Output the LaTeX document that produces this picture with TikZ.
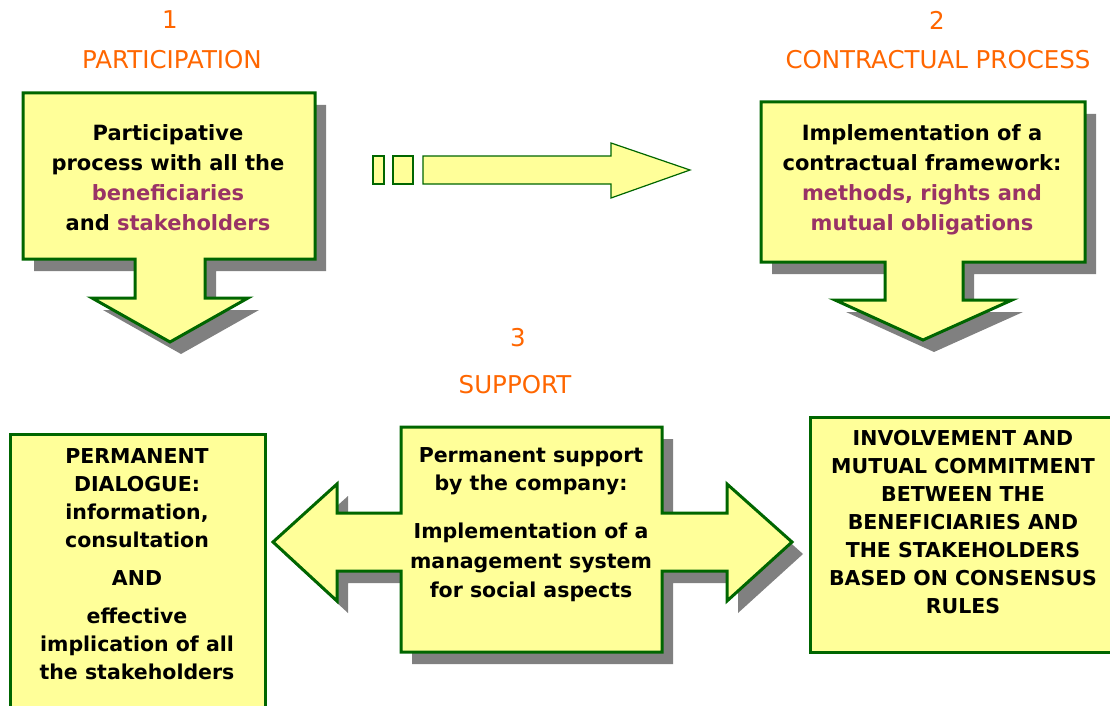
\documentclass[tikz,border=0pt]{standalone}
\usepackage{fontspec}
\setmainfont{DejaVu Sans}
\definecolor{fillY}{HTML}{FFFF99}
\definecolor{bord}{HTML}{006600}
\definecolor{orng}{HTML}{FF6600}
\definecolor{purp}{HTML}{993366}
\definecolor{shad}{HTML}{808080}
\begin{document}
\begin{tikzpicture}[x=1pt,y=-1pt,
  bigshape/.style={fill=fillY,draw=bord,line width=3pt,line join=miter},
  thinshape/.style={fill=fillY,draw=bord,line width=1.2pt,line join=miter},
  shadowshape/.style={fill=shad,shift={(11,12)}},
  title/.style={text=orng,inner sep=0pt,font=\fontsize{24.5}{28}\selectfont},
  boxtext/.style={inner sep=0pt,align=center,font=\bfseries\fontsize{21}{30}\selectfont},
  lowtext/.style={inner sep=0pt,align=center,font=\bfseries\fontsize{20.5}{28}\selectfont}]
\path[use as bounding box,clip] (0,0) rectangle (1110,706);
\def\calloutA{(23,93) -- (315,93) -- (315,259) -- (205,259) -- (205,298) -- (248,298) -- (170,342) -- (92,298) -- (135,298) -- (135,259) -- (23,259) -- cycle}
\def\calloutB{(761,102) -- (1085,102) -- (1085,262) -- (963,262) -- (963,300) -- (1012,300) -- (923,340) -- (835,300) -- (885,300) -- (885,262) -- (761,262) -- cycle}
\def\centreshape{(401,427) -- (662,427) -- (662,513) -- (727,513) -- (727,484) -- (792,542) -- (727,601) -- (727,571) -- (662,571) -- (662,652) -- (401,652) -- (401,571) -- (337,571) -- (337,601) -- (273,542) -- (337,484) -- (337,513) -- (401,513) -- cycle}
\fill[shadowshape] \calloutA;
\draw[bigshape] \calloutA;
\fill[shadowshape] \calloutB;
\draw[bigshape] \calloutB;
\fill[shadowshape] \centreshape;
\draw[bigshape] \centreshape;
% dashed-start arrow
\draw[thinshape] (373,156) rectangle (384,184);
\draw[thinshape] (393,156) rectangle (413,184);
\draw[thinshape] (423,156) -- (611,156) -- (611,143) -- (690,170) -- (611,198) -- (611,184) -- (423,184) -- cycle;
% bottom boxes
\draw[bigshape] (10,434) rectangle (265,720);
\draw[bigshape] (810,417) rectangle (1125,652);
% titles
\node[title] (n1) at (170,20) {1};
\node[title] (t1) at (172,60) {PARTICIPATION};
\node[title] (n2) at (937,20) {2};
\node[title] (t2) at (938,60) {CONTRACTUAL PROCESS};
\node[title] (n3) at (518,338) {3};
\node[title] (t3) at (515,385) {SUPPORT};
% texts
\node[boxtext] (a) at (168,178) {Participative\\process with all the\\\textcolor{purp}{beneficiaries}\\and \textcolor{purp}{stakeholders}};
\node[boxtext] (b) at (922,180) {Implementation of a\\contractual framework:\\\textcolor{purp}{methods, rights and}\\\textcolor{purp}{mutual obligations}};
\node[lowtext] (c) at (137,564) {PERMANENT\\DIALOGUE:\\information,\\consultation\\[10pt]AND\\[10pt]effective\\implication of all\\the stakeholders};
\node[lowtext] (d) at (531,525) {Permanent support\\by the company:\\[20pt]Implementation of a\\[1.5pt]management system\\[1.5pt]for social aspects};
\node[lowtext] (e) at (963,522) {INVOLVEMENT AND\\MUTUAL COMMITMENT\\BETWEEN THE\\BENEFICIARIES AND\\THE STAKEHOLDERS\\BASED ON CONSENSUS\\RULES};
\end{tikzpicture}
\end{document}
